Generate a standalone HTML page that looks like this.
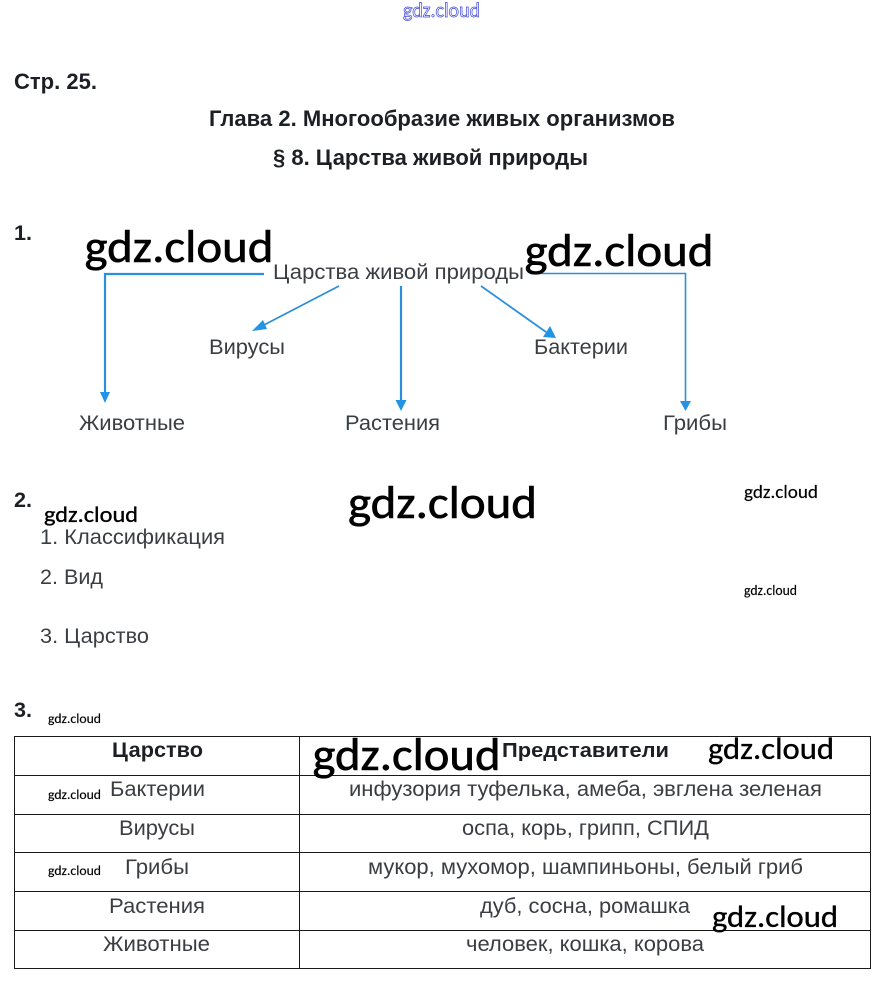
<!DOCTYPE html>
<html lang="ru">
<head>
<meta charset="utf-8">
<style>
html,body{margin:0;padding:0;background:#fff;width:882px;height:982px;overflow:hidden}
svg{display:block}
text{font-family:"Liberation Sans",sans-serif}
.h{font-weight:bold;fill:#1c1f24}
.t{fill:#3a3e42;font-size:21px}
.w{font-family:"Carlito","Liberation Sans",sans-serif;fill:#000;stroke:#000}
.b{stroke-width:.6px}
.m{stroke-width:.35px}
.s{stroke-width:.15px}
</style>
</head>
<body>
<svg width="882" height="982" viewBox="0 0 882 982" xmlns="http://www.w3.org/2000/svg">
<g fill="none" stroke="#2b8fdc">
<path d="M264 274H105V393" stroke-width="2.200"/>
<path d="M530 273.500H685.500V403" stroke-width="1.600"/>
<path d="M339 286L262 326" stroke-width="1.800"/>
<path d="M401 286V400" stroke-width="2.200"/>
<path d="M481 286L546 332" stroke-width="1.800"/>
</g>
<g fill="#2393e6">
<polygon points="100,392 110,392 105,403"/>
<polygon points="395.500,400 406.500,400 401,411"/>
<polygon points="680,401 691,401 685.500,411"/>
<polygon points="252,331 263,320 267,329"/>
<polygon points="556,338 543,337 550,326"/>
</g>
<text class="w" x="403" y="17" font-size="20" textLength="77" lengthAdjust="spacingAndGlyphs" style="fill:#fff;stroke:#3c46d8;stroke-width:.7px">gdz.cloud</text>
<text class="h" x="14" y="89" font-size="22" textLength="83" lengthAdjust="spacingAndGlyphs">Стр. 25.</text>
<text class="h" x="209" y="126" font-size="22" textLength="466" lengthAdjust="spacingAndGlyphs">Глава 2. Многообразие живых организмов</text>
<text class="h" x="273" y="165" font-size="22" textLength="315" lengthAdjust="spacingAndGlyphs">§ 8. Царства живой природы</text>
<text class="h" x="14" y="240" font-size="21" textLength="18" lengthAdjust="spacingAndGlyphs">1.</text>
<text class="h" x="14" y="507" font-size="21" textLength="18" lengthAdjust="spacingAndGlyphs">2.</text>
<text class="h" x="14" y="717" font-size="21" textLength="18" lengthAdjust="spacingAndGlyphs">3.</text>
<text class="t" x="273" y="279" textLength="251" lengthAdjust="spacingAndGlyphs">Царства живой природы</text>
<text class="t" x="209" y="354" textLength="76" lengthAdjust="spacingAndGlyphs">Вирусы</text>
<text class="t" x="534" y="354" textLength="94" lengthAdjust="spacingAndGlyphs">Бактерии</text>
<text class="t" x="79" y="430" textLength="106" lengthAdjust="spacingAndGlyphs">Животные</text>
<text class="t" x="345" y="430" textLength="95" lengthAdjust="spacingAndGlyphs">Растения</text>
<text class="t" x="663" y="430" textLength="64" lengthAdjust="spacingAndGlyphs">Грибы</text>
<text class="t" x="40" y="544" textLength="185" lengthAdjust="spacingAndGlyphs">1. Классификация</text>
<text class="t" x="40" y="584" textLength="63" lengthAdjust="spacingAndGlyphs">2. Вид</text>
<text class="t" x="40" y="643" textLength="109" lengthAdjust="spacingAndGlyphs">3. Царство</text>
<g fill="none" stroke="#1a1a1a" stroke-width="1">
<rect x="14.500" y="736.500" width="856" height="232"/>
<path d="M299.500 736.500V968.500M14.500 775.500H870.500M14.500 814.500H870.500M14.500 852.500H870.500M14.500 891.500H870.500M14.500 930.500H870.500"/>
</g>
<text class="h" x="112" y="757" font-size="21" textLength="91" lengthAdjust="spacingAndGlyphs">Царство</text>
<text class="h" x="502" y="757" font-size="20" textLength="167" lengthAdjust="spacingAndGlyphs">Представители</text>
<text class="t" x="110" y="796" textLength="95" lengthAdjust="spacingAndGlyphs">Бактерии</text>
<text class="t" x="119" y="835" textLength="76" lengthAdjust="spacingAndGlyphs">Вирусы</text>
<text class="t" x="125" y="874" textLength="64" lengthAdjust="spacingAndGlyphs">Грибы</text>
<text class="t" x="109" y="913" textLength="96" lengthAdjust="spacingAndGlyphs">Растения</text>
<text class="t" x="103" y="951" textLength="107" lengthAdjust="spacingAndGlyphs">Животные</text>
<text class="t" x="349" y="796" textLength="473" lengthAdjust="spacingAndGlyphs">инфузория туфелька, амеба, эвглена зеленая</text>
<text class="t" x="462" y="835" textLength="247" lengthAdjust="spacingAndGlyphs">оспа, корь, грипп, СПИД</text>
<text class="t" x="368" y="874" textLength="435" lengthAdjust="spacingAndGlyphs">мукор, мухомор, шампиньоны, белый гриб</text>
<text class="t" x="480" y="913" textLength="210" lengthAdjust="spacingAndGlyphs">дуб, сосна, ромашка</text>
<text class="t" x="466" y="951" textLength="238" lengthAdjust="spacingAndGlyphs">человек, кошка, корова</text>
<text class="w b" x="84.500" y="262" font-size="46" textLength="189" lengthAdjust="spacingAndGlyphs">gdz.cloud</text>
<text class="w b" x="524.500" y="266" font-size="46" textLength="189" lengthAdjust="spacingAndGlyphs">gdz.cloud</text>
<text class="w b" x="348" y="518" font-size="46" textLength="189" lengthAdjust="spacingAndGlyphs">gdz.cloud</text>
<text class="w b" x="312.500" y="770" font-size="46" textLength="188" lengthAdjust="spacingAndGlyphs">gdz.cloud</text>
<text class="w m" x="44" y="522" font-size="23" textLength="94" lengthAdjust="spacingAndGlyphs">gdz.cloud</text>
<text class="w s" x="744" y="498" font-size="18" textLength="74" lengthAdjust="spacingAndGlyphs">gdz.cloud</text>
<text class="w s" x="744" y="595" font-size="14" textLength="53" lengthAdjust="spacingAndGlyphs">gdz.cloud</text>
<text class="w s" x="48" y="723" font-size="13" textLength="53" lengthAdjust="spacingAndGlyphs">gdz.cloud</text>
<text class="w s" x="48" y="799" font-size="13" textLength="53" lengthAdjust="spacingAndGlyphs">gdz.cloud</text>
<text class="w s" x="48" y="875" font-size="13" textLength="53" lengthAdjust="spacingAndGlyphs">gdz.cloud</text>
<text class="w m" x="708" y="759" font-size="31" textLength="126" lengthAdjust="spacingAndGlyphs">gdz.cloud</text>
<text class="w m" x="712" y="927" font-size="31" textLength="126" lengthAdjust="spacingAndGlyphs">gdz.cloud</text>
</svg>
</body>
</html>
